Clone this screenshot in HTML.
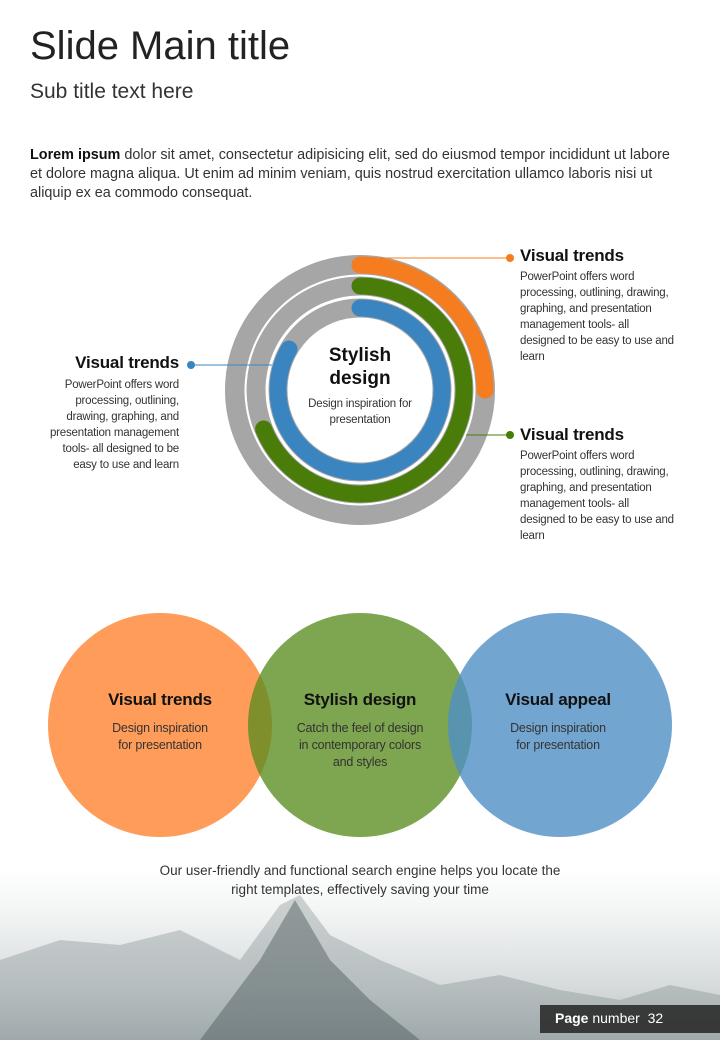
<!DOCTYPE html>
<html><head><meta charset="utf-8"><style>
*{margin:0;padding:0;box-sizing:border-box}
body{width:720px;height:1040px;position:relative;overflow:hidden;background:#fff;font-family:"Liberation Sans",sans-serif;color:#222}
.a{position:absolute;white-space:nowrap}
h1{position:absolute;left:30px;top:24px;font-weight:normal;font-size:40px;color:#222;letter-spacing:0}
.sub{left:30px;top:80px;font-size:21px;color:#333}
.p{left:30px;top:146px;font-size:14.4px;line-height:19px;color:#333}
.hd{font-weight:bold;font-size:17px;color:#111;letter-spacing:-0.2px}
.bd{font-size:11.5px;line-height:16px;color:#333;letter-spacing:-0.2px}
</style></head><body>
<h1>Slide Main title</h1>
<div class="a sub">Sub title text here</div>
<div class="a p"><b style="color:#111">Lorem ipsum</b> dolor sit amet, consectetur adipisicing elit, sed do eiusmod tempor incididunt ut labore<br>et dolore magna aliqua. Ut enim ad minim veniam, quis nostrud exercitation ullamco laboris nisi ut<br>aliquip ex ea commodo consequat.</div>

<svg class="a" style="left:0;top:0" width="720" height="1040">
<defs>
<linearGradient id="sky" x1="0" y1="0" x2="0" y2="1">
<stop offset="0" stop-color="#fff"/><stop offset="0.3" stop-color="#f0f2f2"/><stop offset="0.7" stop-color="#d5dadb"/><stop offset="1" stop-color="#b3bcbe"/></linearGradient>
</defs>
<rect x="0" y="870" width="720" height="170" fill="url(#sky)"/>
<polygon points="0,1040 0,960 60,940 120,945 180,930 240,960 280,905 300,895 330,935 380,960 440,985 500,975 560,990 620,1000 670,985 720,995 720,1040" fill="#7a8789" opacity="0.35"/>
<polygon points="200,1040 260,960 295,900 330,960 370,1000 420,1040" fill="#4a5759" opacity="0.45"/>
<circle cx="360" cy="390" r="125" fill="none" stroke="#a6a6a6" stroke-width="20"/>
<circle cx="360" cy="390" r="104" fill="none" stroke="#a6a6a6" stroke-width="19"/>
<circle cx="360" cy="390" r="82" fill="none" stroke="#a6a6a6" stroke-width="19"/>
<circle cx="360" cy="390" r="114.5" fill="none" stroke="#fff" stroke-width="2"/>
<circle cx="360" cy="390" r="93" fill="none" stroke="#fff" stroke-width="2"/>
<path d="M360 265 A125 125 0 0 1 485 390" fill="none" stroke="#f57c1f" stroke-width="17" stroke-linecap="round"/>
<path d="M360 286 A104 104 0 1 1 263.6 429" fill="none" stroke="#4a7c0a" stroke-width="17" stroke-linecap="round"/>
<path d="M360 308 A82 82 0 1 1 289 349" fill="none" stroke="#3a85c0" stroke-width="17" stroke-linecap="round"/>
<line x1="372" y1="258" x2="510" y2="258" stroke="#f57c1f" stroke-width="1"/><circle cx="510" cy="258" r="4" fill="#f57c1f"/>
<line x1="466" y1="435" x2="510" y2="435" stroke="#4a7c0a" stroke-width="1"/><circle cx="510" cy="435" r="4" fill="#4a7c0a"/>
<line x1="191" y1="365" x2="272" y2="365" stroke="#3a85c0" stroke-width="1"/><circle cx="191" cy="365" r="4" fill="#3a85c0"/>
<circle cx="160" cy="725" r="112" fill="#ff8b3d" opacity="0.85"/>
<circle cx="360" cy="725" r="112" fill="#5a8c1e" opacity="0.78"/>
<circle cx="560" cy="725" r="112" fill="#4f90c6" opacity="0.8"/>
<rect x="540" y="1005" width="180" height="28" fill="#2b2b2b" opacity="0.9"/>
</svg>

<div class="a" style="left:300px;top:344px;width:120px;text-align:center;font-weight:bold;font-size:19px;line-height:23px;color:#111">Stylish<br>design</div>
<div class="a bd" style="left:290px;top:396px;width:140px;text-align:center">Design inspiration for<br>presentation</div>

<div class="a hd" style="left:520px;top:246px">Visual trends</div>
<div class="a bd" style="left:520px;top:269px">PowerPoint offers word<br>processing, outlining, drawing,<br>graphing, and presentation<br>management tools- all<br>designed to be easy to use and<br>learn</div>
<div class="a hd" style="left:520px;top:425px">Visual trends</div>
<div class="a bd" style="left:520px;top:448px">PowerPoint offers word<br>processing, outlining, drawing,<br>graphing, and presentation<br>management tools- all<br>designed to be easy to use and<br>learn</div>
<div class="a hd" style="left:29px;top:353px;width:150px;text-align:right">Visual trends</div>
<div class="a bd" style="left:19px;top:377px;width:160px;text-align:right">PowerPoint offers word<br>processing, outlining,<br>drawing, graphing, and<br>presentation management<br>tools- all designed to be<br>easy to use and learn</div>

<div class="a hd" style="left:60px;top:690px;width:200px;text-align:center">Visual trends</div>
<div class="a bd" style="left:60px;top:720px;width:200px;text-align:center;font-size:12.5px;line-height:17px">Design inspiration<br>for presentation</div>
<div class="a hd" style="left:260px;top:690px;width:200px;text-align:center">Stylish design</div>
<div class="a bd" style="left:260px;top:720px;width:200px;text-align:center;font-size:12.5px;line-height:17px">Catch the feel of design<br>in contemporary colors<br>and styles</div>
<div class="a hd" style="left:458px;top:690px;width:200px;text-align:center">Visual appeal</div>
<div class="a bd" style="left:458px;top:720px;width:200px;text-align:center;font-size:12.5px;line-height:17px">Design inspiration<br>for presentation</div>

<div class="a" style="left:0;top:861px;width:720px;text-align:center;font-size:13.5px;line-height:19px;color:#333">Our user-friendly and functional search engine helps you locate the<br>right templates, effectively saving your time</div>
<div class="a" style="left:555px;top:1010px;font-size:14px;color:#fff"><b>Page</b> number &nbsp;32</div>
</body></html>
